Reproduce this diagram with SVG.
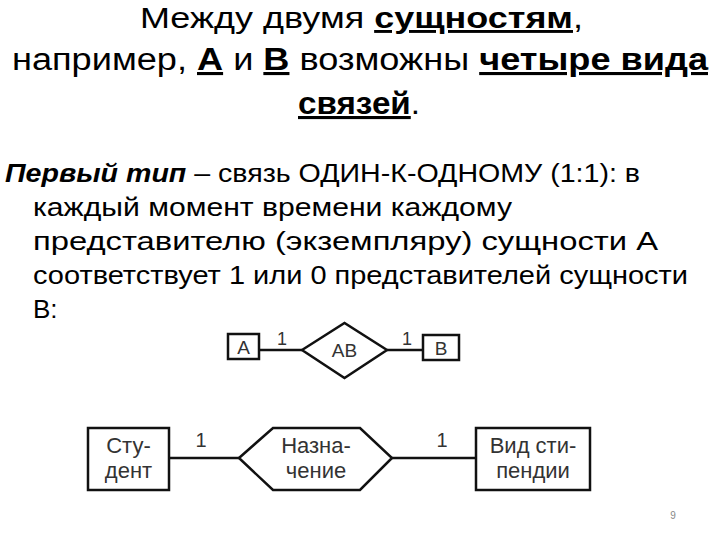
<svg xmlns="http://www.w3.org/2000/svg" width="720" height="540" viewBox="0 0 720 540">
<style>
.t{font-family:"Liberation Sans",Arial,sans-serif;fill:#000}
.title{font-size:31px}
.body{font-size:26px}
.u{font-weight:bold;text-decoration:underline}
.shape{fill:#fff;stroke:#111;stroke-width:2.5}
.conn{stroke:#111;stroke-width:2.5;fill:none}
.lbl{font-family:"Liberation Sans",Arial,sans-serif;fill:#333;text-anchor:middle}
</style>
<rect width="720" height="540" fill="#fff"/>
<g id="title">
<text class="t title" x="140" y="28" font-size="29" style="font-size:29px" textLength="443" lengthAdjust="spacingAndGlyphs">Между двумя <tspan class="u">сущностям</tspan>,</text>
<text class="t title" x="12" y="70" textLength="696" lengthAdjust="spacingAndGlyphs">например, <tspan class="u">А</tspan> и <tspan class="u">В</tspan> возможны <tspan class="u">четыре вида</tspan></text>
<text class="t title" x="298" y="114" textLength="122" lengthAdjust="spacingAndGlyphs"><tspan class="u">связей</tspan>.</text>
</g>
<g id="body">
<text class="t body" x="5" y="182" textLength="635" lengthAdjust="spacingAndGlyphs"><tspan font-weight="bold" font-style="italic">Первый тип</tspan> – связь ОДИН-К-ОДНОМУ (1:1): в</text>
<text class="t body" x="33" y="216" textLength="479" lengthAdjust="spacingAndGlyphs">каждый момент времени каждому</text>
<text class="t body" x="33" y="250" textLength="625" lengthAdjust="spacingAndGlyphs">представителю (экземпляру) сущности А</text>
<text class="t body" x="33" y="284" textLength="655" lengthAdjust="spacingAndGlyphs">соответствует 1 или 0 представителей сущности</text>
<text class="t body" x="33" y="318">В:</text>
</g>
<g id="connectors">
<line class="conn" x1="259" y1="350" x2="302" y2="350"/>
<line class="conn" x1="387" y1="350" x2="423" y2="350"/>
<line class="conn" x1="169" y1="458" x2="239" y2="458"/>
<line class="conn" x1="392" y1="458" x2="476" y2="458"/>
<text class="lbl" x="282" y="345" font-size="18">1</text>
<text class="lbl" x="407" y="345" font-size="18">1</text>
<text class="lbl" x="201" y="447" font-size="20">1</text>
<text class="lbl" x="442" y="447" font-size="20">1</text>
</g>
<g id="nodeA">
<rect class="shape" x="228" y="334" width="31" height="25"/>
<text class="lbl" x="243.5" y="354" font-size="19">A</text>
</g>
<g id="nodeAB">
<polygon class="shape" points="302,350 344.5,323 387,350 344.5,378"/>
<text class="lbl" x="344.5" y="357" font-size="19">AB</text>
</g>
<g id="nodeB">
<rect class="shape" x="423" y="335" width="36" height="25"/>
<text class="lbl" x="441" y="355" font-size="19">B</text>
</g>
<g id="student">
<rect class="shape" x="88" y="428" width="81" height="62"/>
<text class="lbl" x="128.5" y="453" font-size="22">Сту-</text>
<text class="lbl" x="128.5" y="478" font-size="22">дент</text>
</g>
<g id="naznachenie">
<polygon class="shape" points="239,458 273,428 360,428 392,458 360,490 273,490"/>
<text class="lbl" x="316" y="453" font-size="22">Назна-</text>
<text class="lbl" x="316" y="478" font-size="22">чение</text>
</g>
<g id="vid">
<rect class="shape" x="476" y="428" width="114" height="62"/>
<text class="lbl" x="533" y="453" font-size="22">Вид сти-</text>
<text class="lbl" x="533" y="478" font-size="22">пендии</text>
</g>
<text x="673" y="519" font-family="Liberation Sans,Arial,sans-serif" font-size="10" fill="#888" text-anchor="middle">9</text>
</svg>
